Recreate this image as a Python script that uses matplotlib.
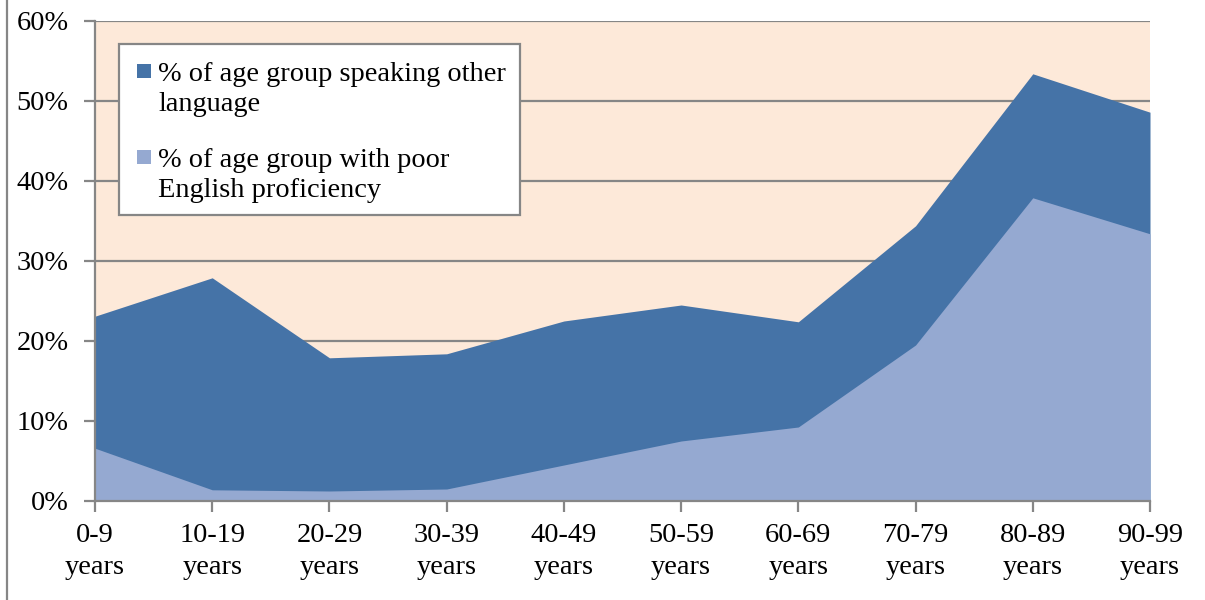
import matplotlib
matplotlib.use("Agg")
import matplotlib.pyplot as plt
from matplotlib.patches import Rectangle
from matplotlib.lines import Line2D

categories = ["0-9\nyears", "10-19\nyears", "20-29\nyears", "30-39\nyears", "40-49\nyears",
              "50-59\nyears", "60-69\nyears", "70-79\nyears", "80-89\nyears", "90-99\nyears"]
other_language = [23.1, 27.9, 17.9, 18.4, 22.5, 24.5, 22.4, 34.4, 53.4, 48.6]
poor_english = [6.6, 1.4, 1.25, 1.5, 4.5, 7.5, 9.25, 19.5, 37.9, 33.4]
series_labels = ["% of age group speaking other\nlanguage", "% of age group with poor\nEnglish proficiency"]
yticks = [0, 10, 20, 30, 40, 50, 60]

plt.rcParams['font.family'] = ['Liberation Serif', 'DejaVu Serif']
dark = "#4573A7"
light = "#95A9D1"
grid = "#868686"
FS = 20.4

W, H = 1205, 600
fig = plt.figure(figsize=(W / 100, H / 100), dpi=100)
ax = fig.add_axes([95/W, 1-501/H, (1150-95)/W, (501-21)/H])
ax.set_facecolor("#FDE9D9")

x = list(range(len(categories)))
ax.fill_between(x, 0, other_language, color=dark, linewidth=0, zorder=2)
ax.fill_between(x, 0, poor_english, color=light, linewidth=0, zorder=3)

ax.set_xlim(0, len(categories) - 1)
ax.set_ylim(0, 60)
ax.set_yticks(yticks)
ax.set_yticklabels([f"{v}%" for v in yticks], fontsize=FS)
ax.set_xticks(x)
ax.set_xticklabels(categories, fontsize=FS, linespacing=1.37)
for v in yticks[1:]:
    ax.axhline(v, color=grid, lw=1.6, zorder=1)
for s in ["top", "right"]:
    ax.spines[s].set_visible(False)
for s in ["left", "bottom"]:
    ax.spines[s].set_color(grid)
    ax.spines[s].set_linewidth(1.6)
    ax.spines[s].set_zorder(4)
ax.tick_params(axis="both", color=grid, width=1.6, length=8, direction="out")
ax.tick_params(axis="y", pad=11)
ax.tick_params(axis="x", pad=8)

# legend box (manual, pixel-placed)
def fx(px):
    return px / W

def fy(py):
    return 1 - py / H

fig.add_artist(Rectangle((fx(119), fy(215)), fx(520) - fx(119), fy(44) - fy(215),
                         transform=fig.transFigure, facecolor="white", edgecolor=grid,
                         linewidth=1.6, zorder=5))
colors = [dark, light]
square_cy = [71, 157]
last_baseline_y = [111, 197]
for lab, col, cy, by in zip(series_labels, colors, square_cy, last_baseline_y):
    fig.add_artist(Rectangle((fx(137), fy(cy + 7)), fx(14), 14 / H, transform=fig.transFigure,
                             facecolor=col, edgecolor="none", zorder=6))
    fig.text(fx(158), fy(by), lab, fontsize=FS, va="baseline", ha="left",
             linespacing=1.26, zorder=6)

fig.add_artist(Line2D([fx(7), fx(7)], [0, 1], color=grid, lw=1.6, transform=fig.transFigure))

fig.savefig("out.png", dpi=100)
